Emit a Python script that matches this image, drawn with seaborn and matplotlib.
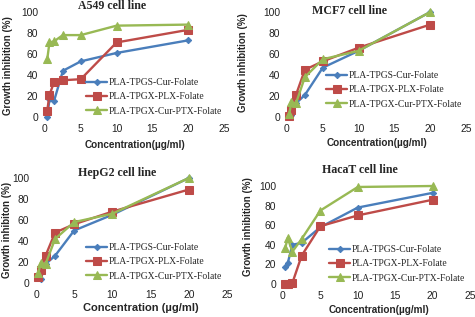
import pandas as pd
import seaborn as sns
import matplotlib.pyplot as plt

# concentrations (ug/ml)
conc = [0.3125, 0.625, 1.25, 2.5, 5, 10, 20]

series_names = ['PLA-TPGS-Cur-Folate', 'PLA-TPGX-PLX-Folate', 'PLA-TPGX-Cur-PTX-Folate']

# growth inhibition (%) per cell line
a549_tpgs = [0, 17, 15, 44, 53, 61, 73]
a549_plx = [6, 21, 33, 35, 36, 71, 83]
a549_ptx = [55, 71, 72, 78, 78, 87, 88]

mcf7_tpgs = [0, 2, 13, 21, 47, 63, 100]
mcf7_plx = [1, 7, 21, 45, 53, 66, 88]
mcf7_ptx = [3, 14, 13, 38, 55, 63, 100]

hepg2_tpgs = [7, 4, 18, 26, 50, 65, 100]
hepg2_plx = [6, 12, 26, 48, 56, 68, 89]
hepg2_ptx = [10, 19, 18, 42, 58, 66, 100]

hacat_tpgs = [17, 21, 40, 42, 58, 78, 93]
hacat_plx = [0, 0, 1, 29, 59, 70, 86]
hacat_ptx = [37, 47, 33, 46, 75, 99, 100]

titles = ['A549 cell line', 'MCF7 cell line', 'HepG2 cell line', 'HacaT cell line']
ylabels = ['Growth inhibition (%)', 'Growth inhibition (%)', 'Growth inhibiton (%)', 'Growth inhibition (%)']
xlabels = ['Concentration(\u00b5g/ml)', 'Concentration(\u00b5g/ml)',
           'Concentration (\u00b5g/ml)', 'Concentration(\u00b5g/ml)']
panel_data = [[a549_tpgs, a549_plx, a549_ptx], [mcf7_tpgs, mcf7_plx, mcf7_ptx],
              [hepg2_tpgs, hepg2_plx, hepg2_ptx], [hacat_tpgs, hacat_plx, hacat_ptx]]

colors = ['#4A7EBB', '#BE4B48', '#98B954']
markers = ['D', 's', '^']
msizes = [3.2, 5.5, 6]

sns.set_style('white')
plt.rcParams['font.family'] = ['Liberation Sans', 'DejaVu Sans']

W, H = 475, 317
fig = plt.figure(figsize=(W / 100, H / 100), dpi=100)

# layout in pixels
boxes = [(45, 224, 12, 117), (287, 466, 12, 117), (36, 227, 178, 283), (283, 470, 186, 284)]
title_pos = [(112, 6), (350, 11), (117, 173), (360, 170)]
ylabel_pos = [(8, 66), (243, 63), (7, 230), (248, 227)]
xlabel_pos = [(135, 145), (377, 143), (141, 308), (379, 310)]
xlabel_size = [7.2, 7.2, 8, 7.2]
legend_pos = [(86, 78), (326, 71), (86, 243), (329, 245)]

for i in range(4):
    l, r, t, b = boxes[i]
    ax = fig.add_axes([l / W, 1 - b / H, (r - l) / W, (b - t) / H])
    for name, vals, c, m, ms in zip(series_names, panel_data[i], colors, markers, msizes):
        df = pd.DataFrame({'x': conc, 'y': vals})
        sns.lineplot(data=df, x='x', y='y', ax=ax, color=c, marker=m, markersize=ms,
                     markeredgecolor=c, linewidth=1.7, label=name, clip_on=False)
    ax.set_xlim(0, 25)
    ax.set_ylim(0, 100)
    ax.set_xticks([0, 5, 10, 15, 20, 25])
    ax.set_yticks([0, 20, 40, 60, 80, 100])
    ax.tick_params(labelsize=7.4, length=0, pad=5, labelcolor='#222222')
    for s in ax.spines.values():
        s.set_visible(False)

    ax.set_xlabel(xlabels[i], fontsize=xlabel_size[i], fontweight='bold')
    ax.set_ylabel(ylabels[i], fontsize=7, fontweight='bold')
    ax.xaxis.set_label_coords(xlabel_pos[i][0] / W, 1 - xlabel_pos[i][1] / H, transform=fig.transFigure)
    ax.yaxis.set_label_coords(ylabel_pos[i][0] / W, 1 - ylabel_pos[i][1] / H, transform=fig.transFigure)
    ax.xaxis.label.set_va('center')
    ax.yaxis.label.set_va('center')

    fig.text(title_pos[i][0] / W, 1 - title_pos[i][1] / H, titles[i], ha='center', va='center',
             fontsize=8.6, fontweight='bold', family=['Liberation Serif', 'DejaVu Serif'])

    ax.legend(loc='upper left', bbox_to_anchor=(legend_pos[i][0] / W, 1 - legend_pos[i][1] / H),
              bbox_transform=fig.transFigure, frameon=False,
              prop={'family': 'Liberation Serif', 'size': 6.9},
              handlelength=2.2, borderaxespad=0, borderpad=0, labelspacing=0.55, handletextpad=0.2)

fig.savefig('out.png', dpi=100)
